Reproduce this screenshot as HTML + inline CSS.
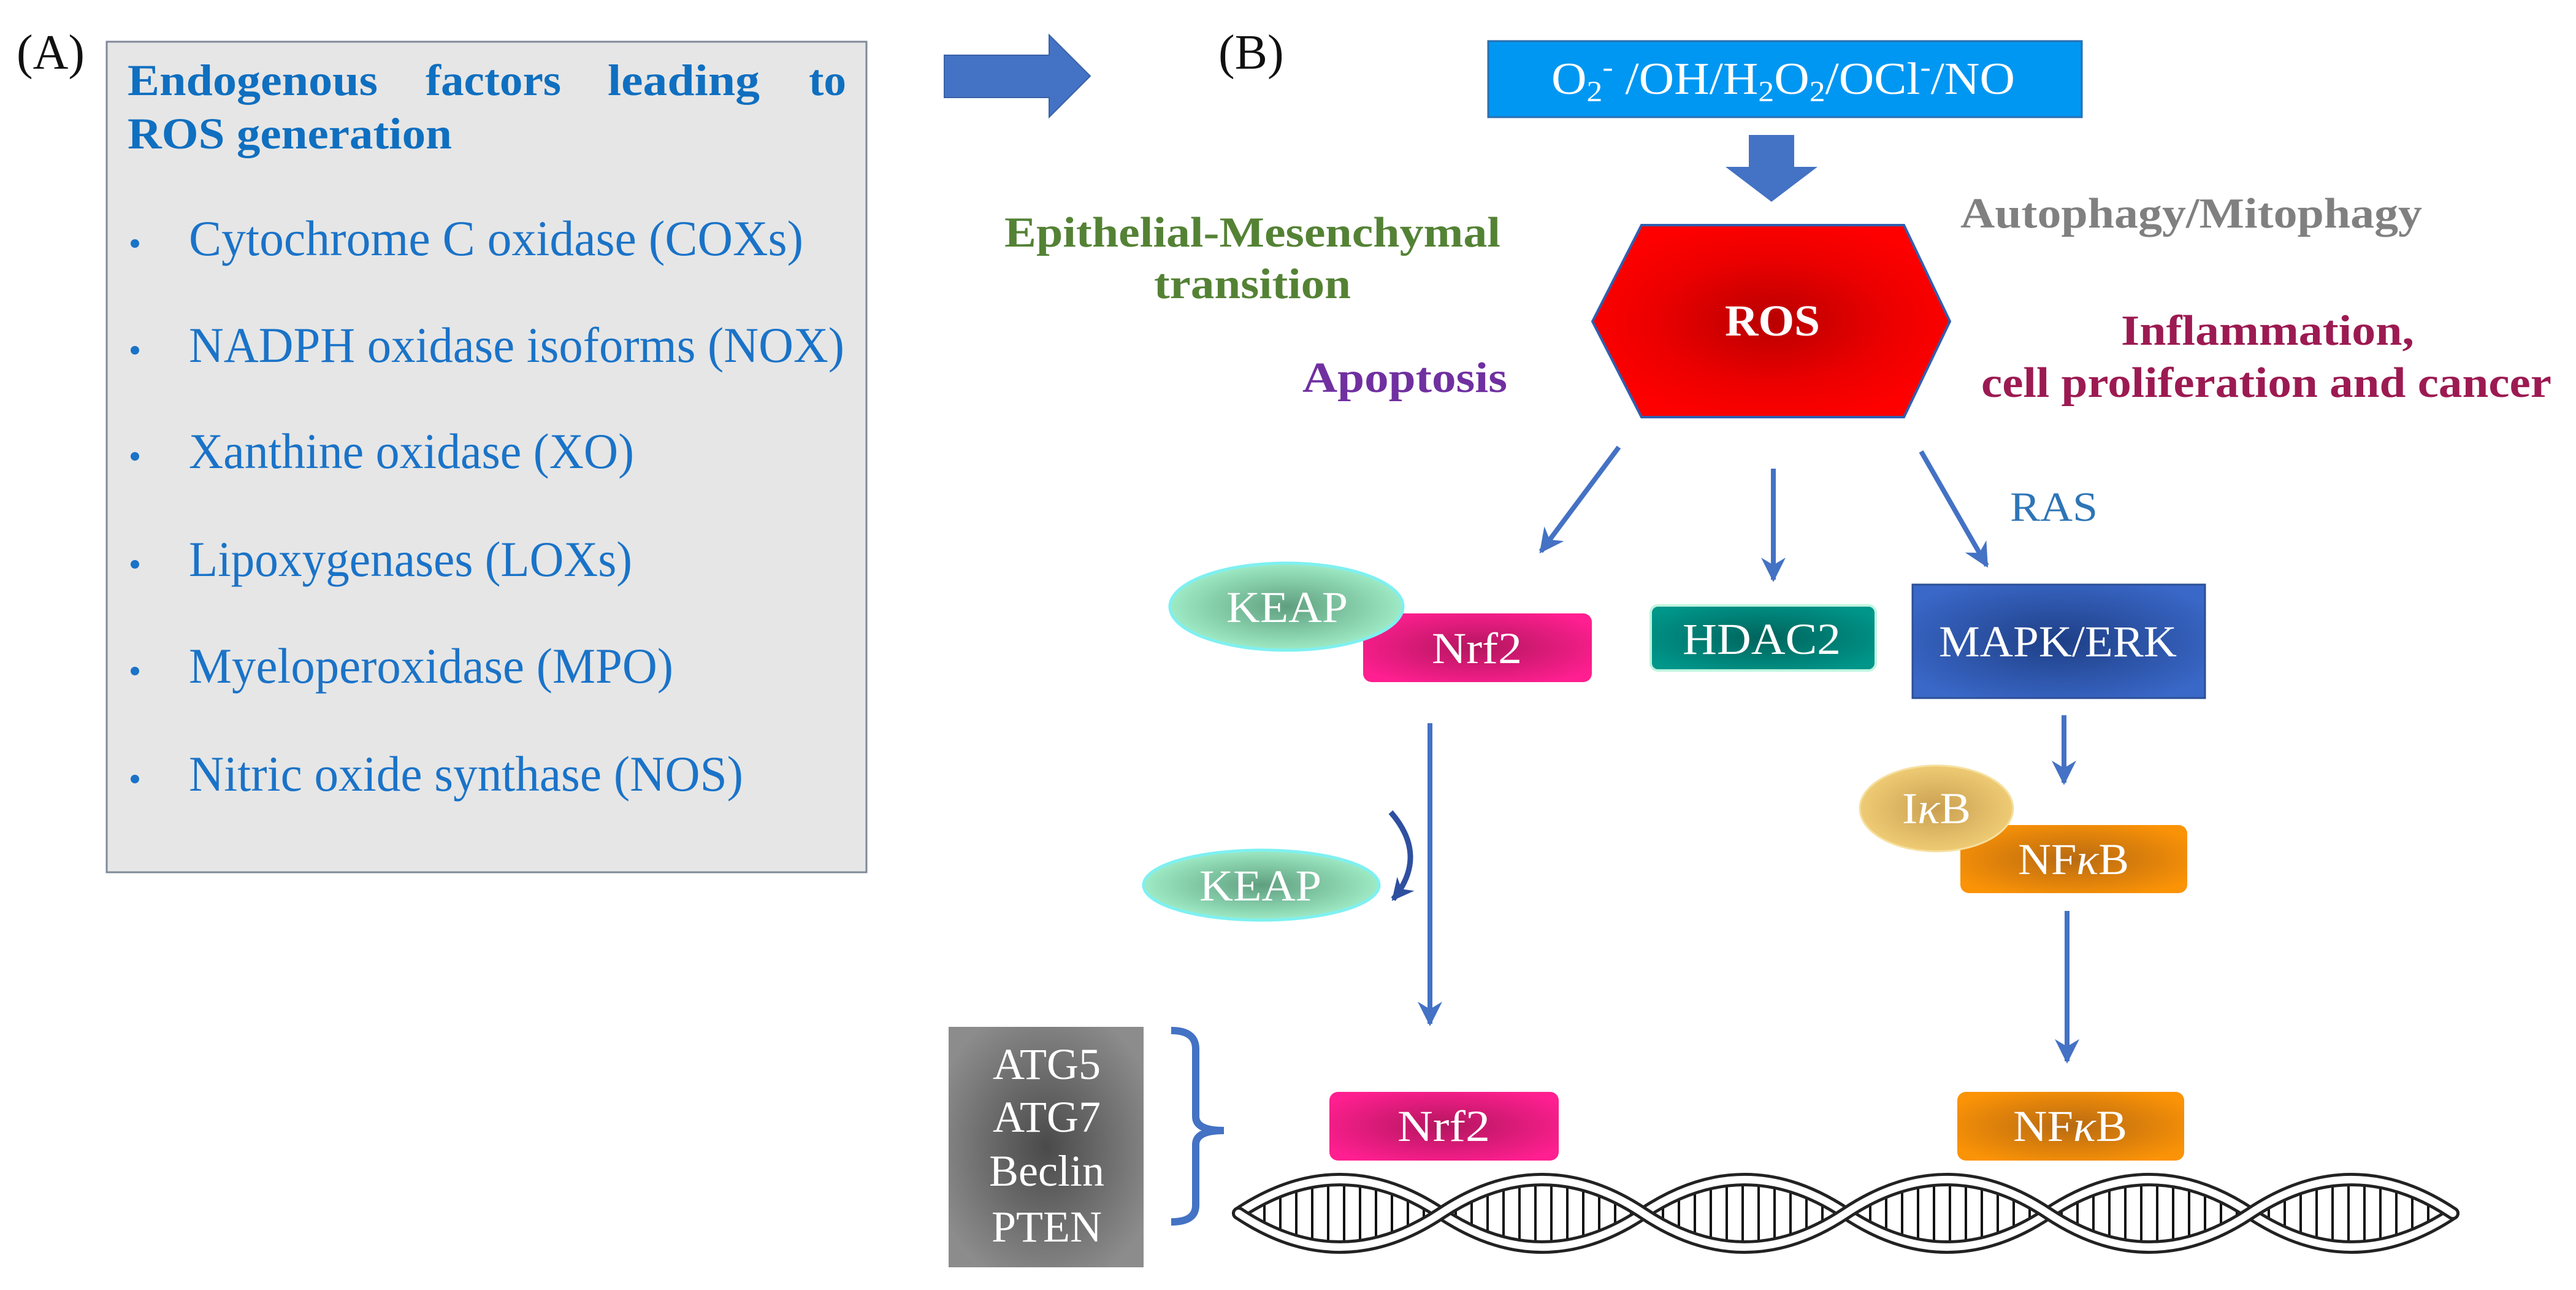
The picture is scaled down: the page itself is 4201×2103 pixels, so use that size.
<!DOCTYPE html>
<html><head><meta charset="utf-8"><style>html,body{margin:0;padding:0;background:#fff}svg{display:block}</style></head>
<body>
<svg xmlns="http://www.w3.org/2000/svg" width="4201" height="2103" viewBox="0 0 4201 2103" font-family="'Liberation Serif', serif">
<defs>
<radialGradient id="gRos" cx="50%" cy="50%" r="55%"><stop offset="0" stop-color="#b80000"/><stop offset="0.6" stop-color="#ec0000"/><stop offset="1" stop-color="#ff0000"/></radialGradient>
<radialGradient id="gKeap" cx="50%" cy="50%" r="55%"><stop offset="0" stop-color="#5f9f7f"/><stop offset="1" stop-color="#a4f2cc"/></radialGradient>
<radialGradient id="gNrf" cx="50%" cy="50%" r="60%"><stop offset="0" stop-color="#b3165f"/><stop offset="1" stop-color="#ff1f90"/></radialGradient>
<radialGradient id="gHd" cx="50%" cy="50%" r="60%"><stop offset="0" stop-color="#00645c"/><stop offset="1" stop-color="#00968a"/></radialGradient>
<radialGradient id="gMap" cx="50%" cy="50%" r="60%"><stop offset="0" stop-color="#1e3f86"/><stop offset="1" stop-color="#3a68c8"/></radialGradient>
<radialGradient id="gIkb" cx="50%" cy="50%" r="55%"><stop offset="0" stop-color="#c9a050"/><stop offset="1" stop-color="#f3cf78"/></radialGradient>
<radialGradient id="gNf" cx="50%" cy="50%" r="60%"><stop offset="0" stop-color="#b86a12"/><stop offset="1" stop-color="#fb9306"/></radialGradient>
<radialGradient id="gAtg" cx="50%" cy="50%" r="60%"><stop offset="0" stop-color="#4a4a4a"/><stop offset="1" stop-color="#8c8c8c"/></radialGradient>
<pattern id="rungs" width="26" height="200" patternUnits="userSpaceOnUse"><line x1="8" y1="0" x2="8" y2="200" stroke="#111" stroke-width="4"/></pattern>
<clipPath id="dnaClip"><path fill-rule="evenodd" d="M2020,1978 q165,-110 330,0 t330,0 t330,0 t330,0 t330,0 t330,0 q-165,-110 -330,0 t-330,0 t-330,0 t-330,0 t-330,0 t-330,0 Z"/></clipPath>
<marker id="ah" viewBox="0 0 10 10" refX="9" refY="5" markerWidth="5" markerHeight="5" orient="auto" markerUnits="strokeWidth"><path d="M0,0 L10,5 L0,10 L3,5 Z" fill="#4472c4"/></marker>
<marker id="ah2" viewBox="0 0 10 10" refX="9" refY="5" markerWidth="4" markerHeight="4" orient="auto" markerUnits="strokeWidth"><path d="M0,0 L10,5 L0,10 L3,5 Z" fill="#2f4fa0"/></marker>
</defs>

<!-- Panel A -->
<text x="27" y="112" font-size="80" fill="#111">(A)</text>
<rect x="174" y="68" width="1239" height="1354" fill="#e6e6e6" stroke="#7f8a99" stroke-width="3"/>
<g fill="#0f6fc0" font-weight="bold" font-size="72">
<text x="208" y="155" textLength="408" lengthAdjust="spacingAndGlyphs">Endogenous</text>
<text x="694" y="155" textLength="221" lengthAdjust="spacingAndGlyphs">factors</text>
<text x="991" y="155" textLength="248" lengthAdjust="spacingAndGlyphs">leading</text>
<text x="1319" y="155" textLength="61" lengthAdjust="spacingAndGlyphs">to</text>
<text x="208" y="242" textLength="529" lengthAdjust="spacingAndGlyphs">ROS generation</text>
</g>
<g fill="#1a73c8" font-size="82">
<circle cx="220" cy="397" r="7"/><text x="308" y="416" textLength="1002" lengthAdjust="spacingAndGlyphs">Cytochrome C oxidase  (COXs)</text>
<circle cx="220" cy="571" r="7"/><text x="308" y="590" textLength="1069" lengthAdjust="spacingAndGlyphs">NADPH oxidase isoforms (NOX)</text>
<circle cx="220" cy="744" r="7"/><text x="308" y="763" textLength="726" lengthAdjust="spacingAndGlyphs">Xanthine oxidase (XO)</text>
<circle cx="220" cy="920" r="7"/><text x="308" y="939" textLength="723" lengthAdjust="spacingAndGlyphs">Lipoxygenases (LOXs)</text>
<circle cx="220" cy="1094" r="7"/><text x="308" y="1113" textLength="790" lengthAdjust="spacingAndGlyphs">Myeloperoxidase (MPO)</text>
<circle cx="220" cy="1270" r="7"/><text x="308" y="1289" textLength="904" lengthAdjust="spacingAndGlyphs">Nitric oxide synthase (NOS)</text>
</g>

<!-- big right arrow -->
<polygon points="1540,90 1711,90 1711,57 1778,124 1711,191 1711,159 1540,159" fill="#4472c4" stroke="#3a62a8" stroke-width="2"/>

<!-- Panel B -->
<text x="1987" y="112" font-size="80" fill="#111">(B)</text>
<rect x="2427" y="67" width="968" height="124" fill="#0097f2" stroke="#2a6fb0" stroke-width="3"/>
<text x="2530" y="153" font-size="74" fill="#ffffff" textLength="756" lengthAdjust="spacingAndGlyphs">O<tspan font-size="48" dy="12">2</tspan><tspan font-size="48" dy="-40">-</tspan><tspan dy="28"> /OH/H</tspan><tspan font-size="48" dy="12">2</tspan><tspan dy="-12">O</tspan><tspan font-size="48" dy="12">2</tspan><tspan dy="-12">/OCl</tspan><tspan font-size="48" dy="-28">-</tspan><tspan dy="28">/NO</tspan></text>
<polygon points="2852,220 2926,220 2926,272 2964,272 2889,329 2814,272 2852,272" fill="#4472c4"/>

<text x="3197" y="371" font-size="70" font-weight="bold" fill="#808080" textLength="753" lengthAdjust="spacingAndGlyphs">Autophagy/Mitophagy</text>
<g fill="#548235" font-weight="bold" font-size="70">
<text x="1638" y="402" textLength="809" lengthAdjust="spacingAndGlyphs">Epithelial-Mesenchymal</text>
<text x="1882" y="486" textLength="321" lengthAdjust="spacingAndGlyphs">transition</text>
</g>
<polygon points="2677,367 3105,367 3180,524 3105,680 2677,680 2597,524" fill="url(#gRos)" stroke="#2f5fb0" stroke-width="4"/>
<text x="2813" y="547" font-size="72" font-weight="bold" fill="#fff" textLength="155" lengthAdjust="spacingAndGlyphs">ROS</text>
<g fill="#9c1a52" font-weight="bold" font-size="70">
<text x="3459" y="562" textLength="478" lengthAdjust="spacingAndGlyphs">Inflammation,</text>
<text x="3231" y="647" textLength="930" lengthAdjust="spacingAndGlyphs">cell proliferation and cancer</text>
</g>
<text x="2124" y="639" font-size="70" font-weight="bold" fill="#7030a0" textLength="334" lengthAdjust="spacingAndGlyphs">Apoptosis</text>

<g stroke="#4472c4" stroke-width="8" fill="none">
<line x1="2640" y1="729" x2="2513" y2="899" marker-end="url(#ah)"/>
<line x1="2892" y1="764" x2="2892" y2="945" marker-end="url(#ah)"/>
<line x1="3133" y1="736" x2="3240" y2="922" marker-end="url(#ah)"/>
<line x1="2332" y1="1179" x2="2332" y2="1669" marker-end="url(#ah)"/>
<line x1="3366" y1="1166" x2="3366" y2="1276" marker-end="url(#ah)"/>
<line x1="3371" y1="1485" x2="3371" y2="1730" marker-end="url(#ah)"/>
</g>
<text x="3278" y="849" font-size="68" fill="#2e75b6" textLength="143" lengthAdjust="spacingAndGlyphs">RAS</text>

<!-- Nrf2 / KEAP -->
<rect x="2223" y="1000" width="373" height="112" rx="14" fill="url(#gNrf)"/>
<text x="2335" y="1081" font-size="72" fill="#fff" textLength="147" lengthAdjust="spacingAndGlyphs">Nrf2</text>
<ellipse cx="2098" cy="989" rx="190" ry="71" fill="url(#gKeap)" stroke="#7ff0f0" stroke-width="5"/>
<text x="2000" y="1014" font-size="72" fill="#fff" textLength="198" lengthAdjust="spacingAndGlyphs">KEAP</text>

<rect x="2692" y="987" width="367" height="106" rx="12" fill="url(#gHd)" stroke="#bff5e0" stroke-width="4"/>
<text x="2744" y="1066" font-size="72" fill="#fff" textLength="258" lengthAdjust="spacingAndGlyphs">HDAC2</text>

<rect x="3119" y="953" width="477" height="185" fill="url(#gMap)" stroke="#2c4f96" stroke-width="3"/>
<text x="3162" y="1070" font-size="72" fill="#fff" textLength="388" lengthAdjust="spacingAndGlyphs">MAPK/ERK</text>

<!-- IkB NFkB -->
<rect x="3197" y="1345" width="370" height="111" rx="14" fill="url(#gNf)"/>
<text x="3291" y="1425" font-size="72" fill="#fff" textLength="181" lengthAdjust="spacingAndGlyphs">NF<tspan font-style="italic">κ</tspan>B</text>
<ellipse cx="3158" cy="1318" rx="125" ry="70" fill="url(#gIkb)" stroke="#f5e0a0" stroke-width="3"/>
<text x="3102" y="1342" font-size="72" fill="#fff" textLength="112" lengthAdjust="spacingAndGlyphs">I<tspan font-style="italic">κ</tspan>B</text>

<!-- KEAP 2 and curved arrow -->
<ellipse cx="2057" cy="1443" rx="192" ry="57" fill="url(#gKeap)" stroke="#7ff0f0" stroke-width="5"/>
<text x="1956" y="1468" font-size="72" fill="#fff" textLength="199" lengthAdjust="spacingAndGlyphs">KEAP</text>
<path d="M2268,1324 Q2330,1395 2272,1466" stroke="#2f4fa0" stroke-width="9" fill="none" marker-end="url(#ah2)"/>

<!-- ATG box -->
<rect x="1547" y="1674" width="318" height="392" fill="url(#gAtg)"/>
<g fill="#fff" font-size="72" text-anchor="middle">
<text x="1707" y="1759">ATG5</text>
<text x="1707" y="1845">ATG7</text>
<text x="1707" y="1933">Beclin</text>
<text x="1707" y="2024">PTEN</text>
</g>
<path d="M1910,1680 Q1950,1680 1950,1710 L1950,1820 Q1950,1843 1996,1843 Q1950,1843 1950,1866 L1950,1965 Q1950,1992 1910,1992" stroke="#4472c4" stroke-width="12" fill="none"/>

<rect x="2168" y="1780" width="374" height="112" rx="14" fill="url(#gNrf)"/>
<text x="2279" y="1860" font-size="72" fill="#fff" textLength="151" lengthAdjust="spacingAndGlyphs">Nrf2</text>
<rect x="3192" y="1780" width="370" height="112" rx="14" fill="url(#gNf)"/>
<text x="3283" y="1860" font-size="72" fill="#fff" textLength="186" lengthAdjust="spacingAndGlyphs">NF<tspan font-style="italic">κ</tspan>B</text>

<!-- DNA -->
<rect x="2020" y="1915" width="1980" height="130" fill="url(#rungs)" clip-path="url(#dnaClip)"/>
<g fill="none" stroke-linecap="round">
<path d="M2020,1978 q165,-110 330,0 t330,0 t330,0 t330,0 t330,0 t330,0" stroke="#222" stroke-width="22"/>
<path d="M2020,1978 q165,-110 330,0 t330,0 t330,0 t330,0 t330,0 t330,0" stroke="#fff" stroke-width="12"/>
<path d="M2020,1978 q165,110 330,0 t330,0 t330,0 t330,0 t330,0 t330,0" stroke="#222" stroke-width="22"/>
<path d="M2020,1978 q165,110 330,0 t330,0 t330,0 t330,0 t330,0 t330,0" stroke="#fff" stroke-width="12"/>
</g>
</svg>
</body></html>
